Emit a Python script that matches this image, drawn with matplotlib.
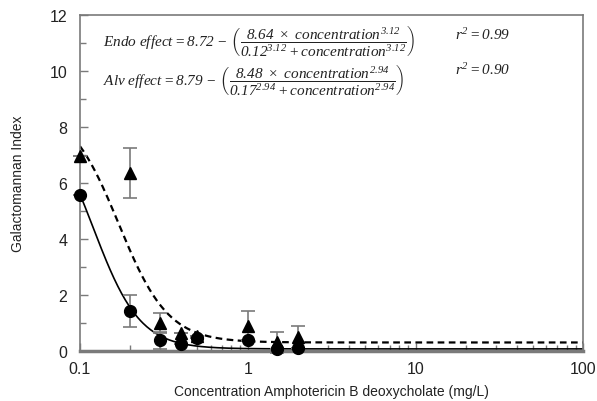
import numpy as np
import matplotlib
matplotlib.use('Agg')
import matplotlib.pyplot as plt
from matplotlib.ticker import LogLocator, FixedLocator, NullFormatter

plt.rcParams['font.family'] = 'Liberation Sans'
plt.rcParams['mathtext.fontset'] = 'custom'
plt.rcParams['mathtext.rm'] = 'Liberation Serif:italic'
plt.rcParams['mathtext.it'] = 'Liberation Serif:italic'

# measured points
conc = [0.1, 0.2, 0.3, 0.4, 0.5, 1.0, 1.5, 2.0]
endo = [5.58, 1.44, 0.39, 0.27, 0.46, 0.39, 0.07, 0.10]
endo_err = [0.0, 0.57, 0.30, 0.0, 0.0, 0.0, 0.0, 0.0]
alv = [6.98, 6.36, 1.00, 0.64, 0.53, 0.90, 0.32, 0.50]
alv_err = [0.0, 0.90, 0.35, 0.0, 0.0, 0.55, 0.38, 0.40]

# fitted model parameters (from the equations on the chart)
endo_fit = dict(top=8.72, span=8.64, ec50=0.12, h=3.12)
alv_fit = dict(top=8.79, span=8.48, ec50=0.17, h=2.94)


def model(c, top, span, ec50, h):
    return top - span * c**h / (ec50**h + c**h)


cc = np.logspace(-1, 2, 400)

fig, ax = plt.subplots(figsize=(5.97, 4.02), dpi=100)
fig.subplots_adjust(left=0.134, right=0.977, top=0.96, bottom=0.124)

grey = '#7a7a7a'
ax.plot(cc, model(cc, **endo_fit), color='black', lw=1.2, zorder=2)
ax.plot(cc, model(cc, **alv_fit), color='black', lw=1.6, ls=(0, (3, 2)), zorder=2)

ax.errorbar(conc, alv, yerr=alv_err, fmt='^', color='black', ms=8,
            ecolor=grey, elinewidth=1.2, capsize=5, capthick=1.2, zorder=3,
            clip_on=False)
ax.errorbar(conc, endo, yerr=endo_err, fmt='o', color='black', ms=8.5,
            ecolor=grey, elinewidth=1.2, capsize=5, capthick=1.2, zorder=4,
            clip_on=False)

ax.set_xscale('log')
ax.set_xlim(0.1, 100)
ax.set_ylim(0, 12)
ax.set_xticks([0.1, 1, 10, 100])
ax.set_xticklabels(['0.1', '1', '10', '100'])
ax.xaxis.set_minor_locator(LogLocator(base=10, subs=np.arange(2, 10)))
ax.xaxis.set_minor_formatter(NullFormatter())
ax.set_yticks(np.arange(0, 13, 2))
ax.yaxis.set_minor_locator(FixedLocator(np.arange(1, 12, 2)))

for s in ax.spines.values():
    s.set_color(grey)
    s.set_linewidth(1.2)
ax.spines['bottom'].set_linewidth(2.5)

ax.tick_params(which='both', direction='in', color=grey, labelsize=11.5,
               labelcolor='#222222')
ax.tick_params(which='major', length=6, width=1)
ax.tick_params(which='minor', length=4, width=1)
ax.tick_params(axis='x', pad=7)
ax.tick_params(axis='y', pad=9)

ax.set_xlabel('Concentration Amphotericin B deoxycholate (mg/L)', fontsize=10,
              color='#222222', labelpad=6)
ax.set_ylabel('Galactomannan Index', fontsize=10, color='#222222', labelpad=18)

eq_endo = (r'$Endo\ effect = 8.72\ \mathrm{-}\ \left(\dfrac{8.64\ \times\ concentration^{3.12}}'
           r'{0.12^{3.12} + concentration^{3.12}}\right)$')
eq_alv = (r'$Alv\ effect = 8.79\ \mathrm{-}\ \left(\dfrac{8.48\ \times\ concentration^{2.94}}'
          r'{0.17^{2.94} + concentration^{2.94}}\right)$')
ax.text(0.045, 0.925, eq_endo, transform=ax.transAxes, fontsize=11,
        va='center', ha='left', color='#222222')
ax.text(0.045, 0.81, eq_alv, transform=ax.transAxes, fontsize=11,
        va='center', ha='left', color='#222222')
ax.text(0.745, 0.945, r'$r^2 = 0.99$', transform=ax.transAxes, fontsize=11,
        va='center', ha='left', color='#222222')
ax.text(0.745, 0.84, r'$r^2 = 0.90$', transform=ax.transAxes, fontsize=11,
        va='center', ha='left', color='#222222')

fig.savefig('out.png', dpi=100)
